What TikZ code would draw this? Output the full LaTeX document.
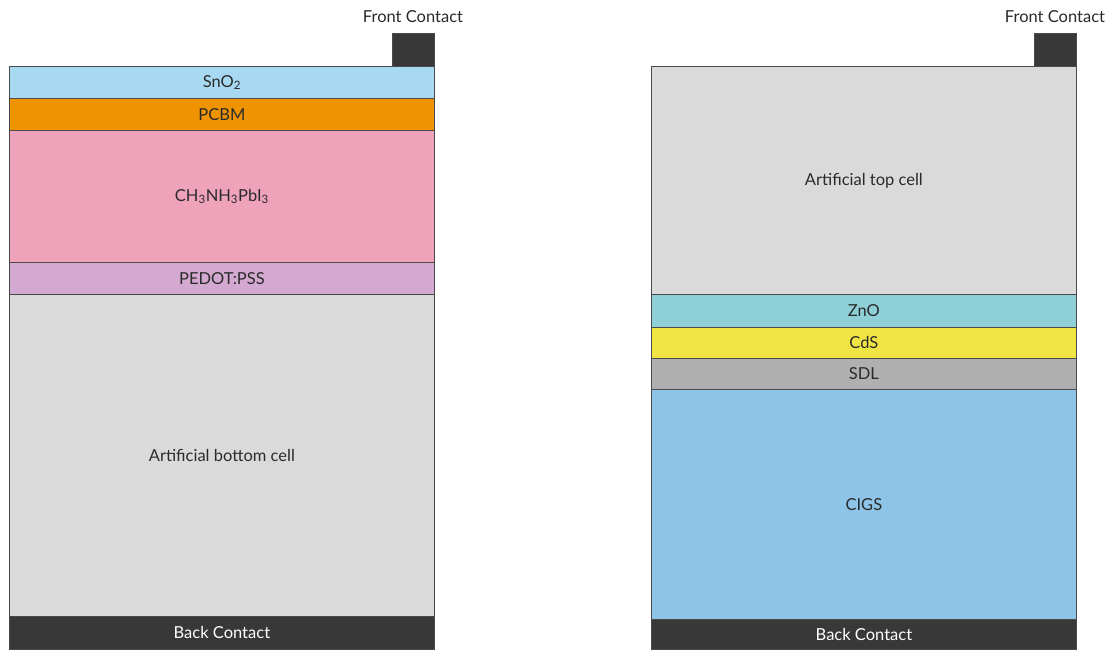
\documentclass[tikz,border=0pt]{standalone}
\usepackage{fontspec}
\setmainfont{Lato}
\definecolor{snotwo}{HTML}{A8D9F2}
\definecolor{pcbm}{HTML}{F09300}
\definecolor{mapi}{HTML}{EEA3BB}
\definecolor{pedot}{HTML}{D4A9D1}
\definecolor{cellgrey}{HTML}{DADADA}
\definecolor{contact}{HTML}{383838}
\definecolor{zno}{HTML}{8ECFD8}
\definecolor{cds}{HTML}{F1E545}
\definecolor{sdl}{HTML}{B1B0B1}
\definecolor{cigs}{HTML}{8EC4E8}
\definecolor{txt}{HTML}{2A2A2A}
\definecolor{edge}{HTML}{4A4A4A}
\begin{document}
\begin{tikzpicture}[x=1pt,y=-1pt,
  layer/.style={draw=edge,line width=0.8pt,anchor=north west,inner sep=0pt,
    minimum width=425pt,text=txt,font=\fontsize{16.5}{18}\selectfont},
  contactbox/.style={draw=edge,line width=0.8pt,fill=contact,anchor=north west,inner sep=0pt,
    minimum width=42pt,minimum height=33pt},
  toplabel/.style={text=txt,font=\fontsize{16.5}{18}\selectfont,inner sep=0pt}]
\useasboundingbox[fill=white] (0,0) rectangle (1115,650);
% left stack
\node[layer,fill=snotwo,minimum height=32pt] (sno) at (9,66) {SnO\textsubscript{2}};
\node[layer,fill=pcbm,minimum height=32pt] (pcbm) at (9,98) {PCBM};
\node[layer,fill=mapi,minimum height=132pt] (mapi) at (9,130) {CH\textsubscript{3}NH\textsubscript{3}PbI\textsubscript{3}};
\node[layer,fill=pedot,minimum height=32pt] (pedot) at (9,262) {PEDOT:PSS};
\node[layer,fill=cellgrey,minimum height=322pt] (bot) at (9,294) {Artificial bottom cell};
\node[layer,fill=contact,text=white,minimum height=33pt] (bcl) at (9,616) {Back Contact};
\node[contactbox] (fcl) at (392,33) {};
\node[toplabel,anchor=base] (fcltxt) at (413,23) {Front Contact};
% right stack
\node[layer,fill=cellgrey,minimum height=228pt] (topc) at (651,66) {Artificial top cell};
\node[layer,fill=zno,minimum height=33pt] (zno) at (651,294) {ZnO};
\node[layer,fill=cds,minimum height=31pt] (cds) at (651,327) {CdS};
\node[layer,fill=sdl,minimum height=31pt] (sdl) at (651,358) {SDL};
\node[layer,fill=cigs,minimum height=230pt] (cigs) at (651,389) {CIGS};
\node[layer,fill=contact,text=white,minimum height=30pt] (bcr) at (651,619) {Back Contact};
\node[contactbox] (fcr) at (1034,33) {};
\node[toplabel,anchor=base] (fcrtxt) at (1055,23) {Front Contact};
\end{tikzpicture}
\end{document}
